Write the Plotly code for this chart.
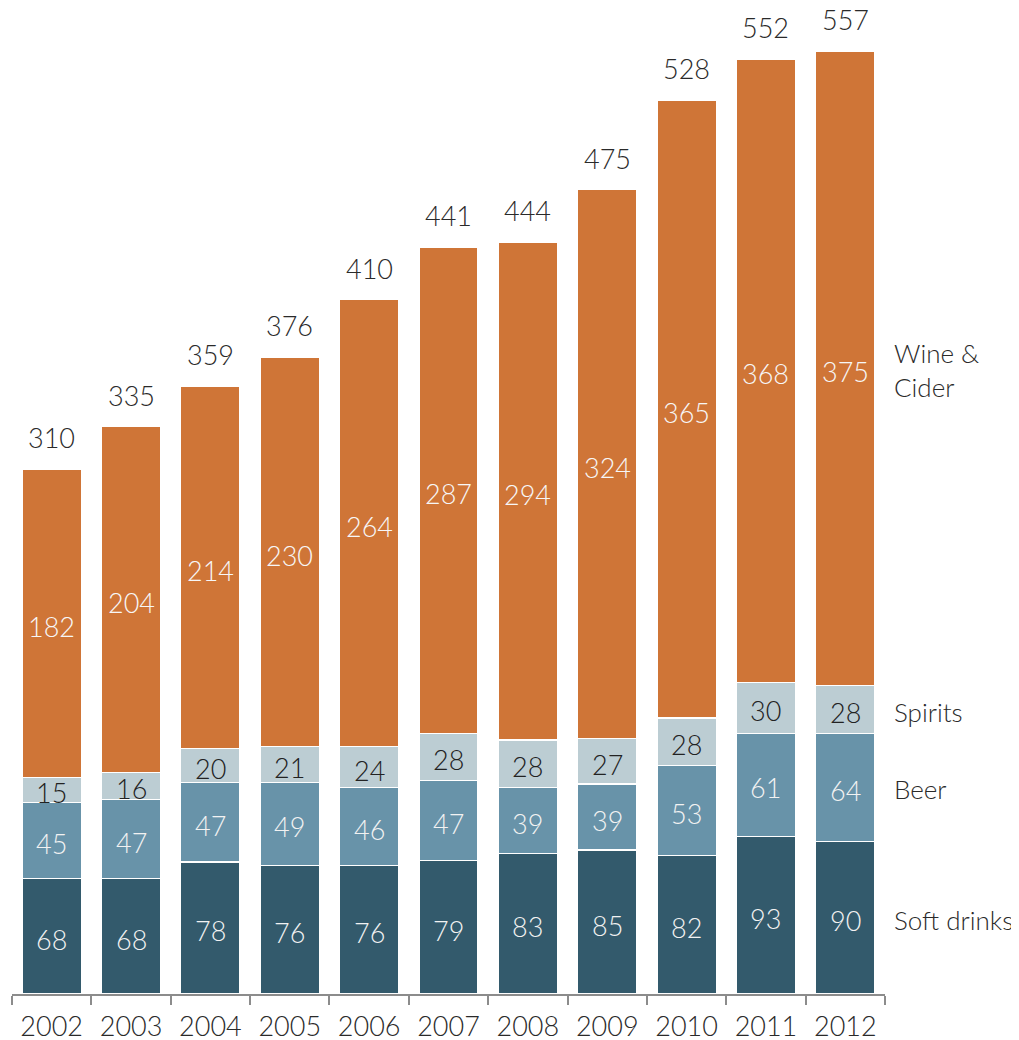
import plotly.graph_objects as go

years = ["2002", "2003", "2004", "2005", "2006", "2007", "2008", "2009", "2010", "2011", "2012"]
soft_drinks = [68, 68, 78, 76, 76, 79, 83, 85, 82, 93, 90]
beer = [45, 47, 47, 49, 46, 47, 39, 39, 53, 61, 64]
spirits = [15, 16, 20, 21, 24, 28, 28, 27, 28, 30, 28]
wine_cider = [182, 204, 214, 230, 264, 287, 294, 324, 365, 368, 375]

series = [
    ("Soft drinks", soft_drinks, "#335a6c", "#f2f2f2"),
    ("Beer", beer, "#6893a9", "#f2f2f2"),
    ("Spirits", spirits, "#bccdd3", "#222222"),
    ("Wine &<br>Cider", wine_cider, "#cf7537", "#f7f7f7"),
]

FONT = "Lato"
FS = 27
LFS = 26

fig = go.Figure()
base = [0] * len(years)
mids_all = []
for name, vals, col, tcol in series:
    fig.add_trace(go.Bar(
        x=years, y=vals, name=name,
        marker=dict(color=col, line=dict(color="white", width=1.2)),
        hoverinfo="skip",
    ))
    mids = [b + v / 2 for b, v in zip(base, vals)]
    mids_all.append((name, mids))
    for i, (m, v) in enumerate(zip(mids, vals)):
        fig.add_annotation(
            x=i, y=m, xref="x", yref="y", text=str(v), showarrow=False,
            yanchor="middle", yshift=-3,
            font=dict(family=FONT, size=FS, color=tcol, weight=300),
        )
    base = [b + v for b, v in zip(base, vals)]

totals = base
for i, t in enumerate(totals):
    fig.add_annotation(
        x=i, y=t, xref="x", yref="y", text=str(t), showarrow=False,
        yanchor="bottom", yshift=13,
        font=dict(family=FONT, size=FS, color="#2a2a2a", weight=300),
    )

for name, mids in mids_all:
    fig.add_annotation(
        xref="paper", yref="y", x=1.0, y=mids[-1], xshift=7, yshift=-2,
        text=name, showarrow=False, xanchor="left", yanchor="middle",
        align="left", font=dict(family=FONT, size=LFS, color="#2a2a2a", weight=300),
    )

fig.update_layout(
    barmode="stack",
    bargap=0.255,
    width=1011, height=1040,
    margin=dict(l=4, r=134, t=4, b=54),
    paper_bgcolor="white", plot_bgcolor="white",
    showlegend=False,
    font=dict(family=FONT, size=FS, color="#2a2a2a"),
    xaxis=dict(
        type="category", range=[-0.5, 10.5],
        showline=True, linecolor="#8c8c8c", linewidth=2,
        ticks="outside", tickson="boundaries", ticklen=9, tickwidth=2, tickcolor="#8c8c8c",
        ticklabelstandoff=8,
        showgrid=False, zeroline=False,
        tickfont=dict(family=FONT, size=FS, color="#2a2a2a", weight=300),
    ),
    yaxis=dict(range=[0, 580], visible=False, showgrid=False, zeroline=False),
)

fig.write_html("out.html")
